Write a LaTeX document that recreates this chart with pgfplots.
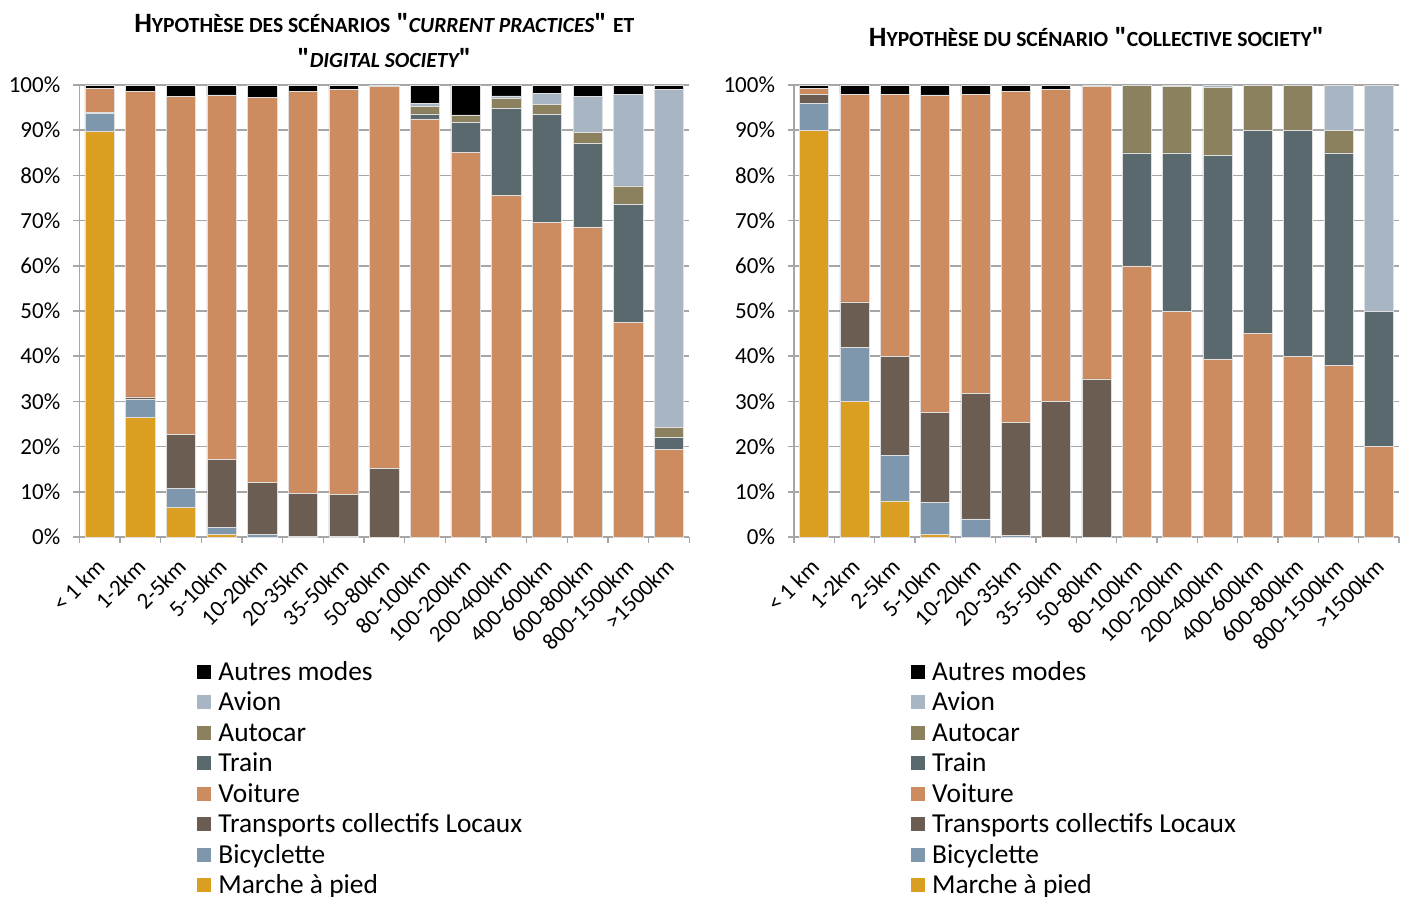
\documentclass[border=0pt]{standalone}
\usepackage{fontspec}
\setmainfont{Carlito}[Ligatures=TeXOff]
\usepackage{pgfplots}
\usepackage{pgfplotstable}
\pgfplotsset{compat=1.18}

\definecolor{cWalk}{HTML}{DA9F20}
\definecolor{cBike}{HTML}{7F97AC}
\definecolor{cTcl}{HTML}{6B5D52}
\definecolor{cVoit}{HTML}{CC8C5F}
\definecolor{cTrain}{HTML}{5A696D}
\definecolor{cCar}{HTML}{8B815F}
\definecolor{cAvion}{HTML}{A8B5C2}
\definecolor{cAutres}{HTML}{000000}
\definecolor{cGrid}{HTML}{A6A6A6}

\pgfplotstableread{
x walk bike tcl voit train car avion autres
0 89.7 4.1 0.1 5.4 0 0 0 0.7
1 26.4 4.0 0.6 67.5 0 0 0 1.5
2 6.6 4.2 11.9 74.8 0 0 0 2.5
3 0.5 1.6 15.1 80.6 0 0 0 2.2
4 0 0.5 11.6 85.1 0 0 0 2.8
5 0 0.1 9.6 88.8 0 0 0 1.5
6 0 0.1 9.3 89.6 0 0 0 1.0
7 0 0 15.1 84.6 0 0 0 0.3
8 0 0 0 92.5 1.1 1.6 0.8 4.0
9 0 0 0 85.1 6.6 1.7 0 6.6
10 0 0 0 75.5 19.3 2.3 0.5 2.4
11 0 0 0 69.6 23.9 2.2 2.5 1.8
12 0 0 0 68.6 18.4 2.5 8.0 2.5
13 0 0 0 47.4 26.1 4.2 20.2 2.1
14 0 0 0 19.4 2.6 2.3 74.8 0.9
}\dataleft

\pgfplotstableread{
x walk bike tcl voit train car avion autres
0 90 6 1.9 1.4 0 0 0 0.7
1 30 12 10 46 0 0 0 2
2 8 10 22 58 0 0 0 2
3 0.5 7.1 19.9 70.3 0 0 0 2.2
4 0 4 27.8 66.1 0 0 0 2.1
5 0 0.4 25 73.2 0 0 0 1.4
6 0 0 30 69 0 0 0 1
7 0 0 35 64.7 0 0 0 0.3
8 0 0 0 60 25 15 0 0
9 0 0 0 50 35 14.7 0.3 0
10 0 0 0 39.4 45.1 14.9 0.6 0
11 0 0 0 45 45 10 0 0
12 0 0 0 40 50 10 0 0
13 0 0 0 38 47 5 10 0
14 0 0 0 20 30 0 50 0
}\dataright

\newcommand\bigc[1]{{\fontsize{14}{17.5}\selectfont #1}}
\newcommand\smc[1]{{\fontsize{10.8}{17.5}\selectfont #1}}

\pgfplotsset{
  sq/.style={legend image code/.code={\fill[##1,draw=none] (0pt,-2pt) rectangle (7pt,5pt);}},
  mychart/.style={
    scale only axis, height=226pt,
    ybar stacked, bar width=0.72,
    xmin=-0.5, xmax=14.5, ymin=0, ymax=100,
    axis x line*=bottom, axis y line*=left,
    axis line style={draw=cGrid, line width=0.8pt},
    ytick={0,10,...,100},
    yticklabels={0\%,10\%,20\%,30\%,40\%,50\%,60\%,70\%,80\%,90\%,100\%},
    yticklabel style={font=\fontsize{11.5}{13}\selectfont, xshift=-3pt},
    ymajorgrids, grid style={cGrid, line width=0.8pt},
    xtick={0,1,...,14},
    xticklabels={< 1 km,1-2km,2-5km,5-10km,10-20km,20-35km,35-50km,50-80km,80-100km,100-200km,200-400km,400-600km,600-800km,800-1500km,>1500km},
    xticklabel style={xshift=-2.4pt, yshift=-5.5pt, rotate=45, anchor=north east, font=\fontsize{11.5}{13}\selectfont, inner sep=1pt},
    major x tick style={draw=none},
    minor xtick={-0.5,0.5,...,14.5},
    tick align=outside, major tick length=3pt, minor tick length=3pt,
    tick style={cGrid, line width=0.8pt},
    every axis plot/.append style={draw=white!75!gray, line width=0.3pt},
    reverse legend,
    legend cell align=left,
    legend style={at={(0.193,-0.27)}, anchor=north west, draw=none, fill=none,
      font=\fontsize{13.7}{15}\selectfont, inner sep=0pt,
      nodes={inner xsep=3.5pt, inner ysep=0pt, text height=10.5pt, text depth=4.75pt}},
    title style={at={(0.5,1)}, anchor=south, align=center, font=\bfseries\fontsize{14}{17.5}\selectfont, inner sep=0pt},
  }
}

\newcommand\plotall[1]{
  \addplot[fill=cWalk, sq] table[x=x,y=walk] {#1}; \addlegendentry{Marche à pied}
  \addplot[fill=cBike, sq] table[x=x,y=bike] {#1}; \addlegendentry{Bicyclette}
  \addplot[fill=cTcl, sq] table[x=x,y=tcl] {#1}; \addlegendentry{Transports collectifs Locaux}
  \addplot[fill=cVoit, sq] table[x=x,y=voit] {#1}; \addlegendentry{Voiture}
  \addplot[fill=cTrain, sq] table[x=x,y=train] {#1}; \addlegendentry{Train}
  \addplot[fill=cCar, sq] table[x=x,y=car] {#1}; \addlegendentry{Autocar}
  \addplot[fill=cAvion, sq] table[x=x,y=avion] {#1}; \addlegendentry{Avion}
  \addplot[fill=cAutres, sq] table[x=x,y=autres] {#1}; \addlegendentry{Autres modes}
}

\begin{document}
\begin{tikzpicture}
\path[use as bounding box] (0,0) rectangle (700.5pt,448pt);
\begin{axis}[mychart, width=305pt, at={(39.65pt,179.5pt)}, anchor=south west,
  title={\bigc{H}\smc{YPOTHÈSE DES SCÉNARIOS} \bigc{"}\smc{\itshape CURRENT PRACTICES}\bigc{"} \smc{ET}\\\bigc{"}\smc{\itshape DIGITAL SOCIETY}\bigc{"}},
  title style={yshift=2.7pt}]
\plotall{\dataleft}
\end{axis}
\begin{axis}[mychart, width=302.5pt, at={(397pt,179.5pt)}, anchor=south west,
  title={\bigc{H}\smc{YPOTHÈSE DU SCÉNARIO} \bigc{"}\smc{COLLECTIVE SOCIETY}\bigc{"}},
  title style={yshift=13pt}]
\plotall{\dataright}
\end{axis}
\end{tikzpicture}
\end{document}
